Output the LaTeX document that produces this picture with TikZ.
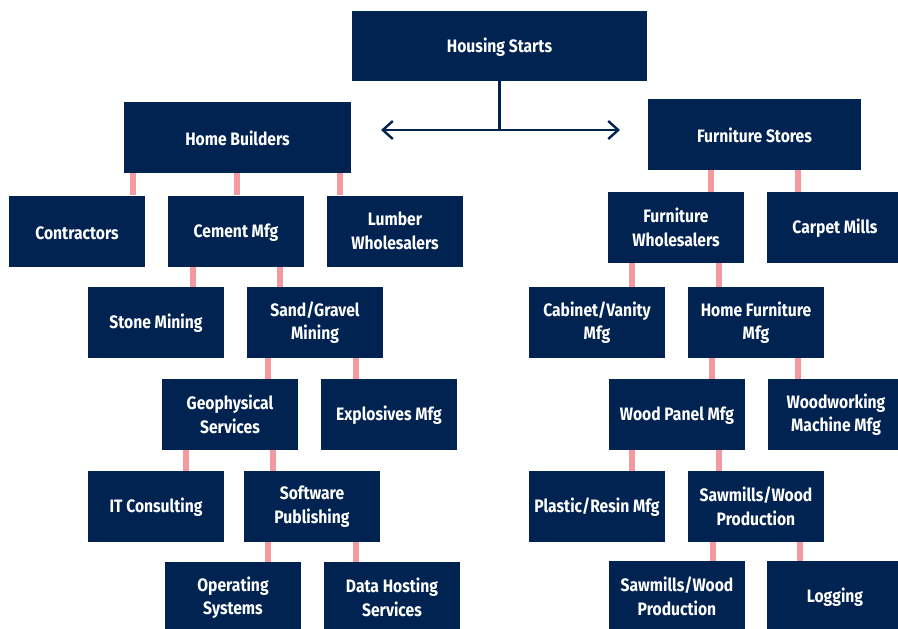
\documentclass[tikz,border=0pt]{standalone}
\usepackage{fontspec}
\setmainfont{Fira Sans}[FakeStretch=0.87]
\usepackage{xcolor}
\definecolor{navy}{RGB}{0,35,82}
\definecolor{tiepink}{RGB}{244,154,158}
\usepackage{tikz}
\usetikzlibrary{arrows.meta}
\newcommand{\boxw}{136pt}
\newcommand{\boxh}{71pt}
\newcommand{\tie}[3]{\draw[link] (#1.south -| #3,0) -- (#2.north -| #3,0);}
\tikzset{
    industry/.style={fill=navy, text=white, inner sep=0pt, align=center,
        minimum width=\boxw, minimum height=\boxh,
        font=\fontsize{18}{23.5}\selectfont\bfseries,
        execute at begin node={\vrule height 16.4pt width 0pt}},
    headbox/.style={industry, minimum height=70pt},
    link/.style={draw=tiepink, line width=6pt},
    flow/.style={draw=navy, line width=2.4pt},
    twoway/.style={flow, {Straight Barb[length=10pt, width=18pt]}-{Straight Barb[length=10pt, width=18pt]}}
}

\begin{document}
\begin{tikzpicture}[x=1pt, y=-1pt]
    \useasboundingbox (0,0) rectangle (898,629);

    \node[headbox, minimum width=295pt] (hs) at (499.5,46) {Housing Starts};
    \node[industry, minimum width=227pt] (hb) at (237.5,137.5) {Home Builders};
    \node[industry, minimum width=213pt] (fs) at (754.5,134.5) {Furniture Stores};

    \coordinate (lefttip) at (381,130);
    \coordinate (righttip) at (620,130);
    \draw[flow] (hs.south) -- (hs.south |- lefttip);
    \draw[twoway] (lefttip) -- (righttip);

    % home builders side
    \node[industry] (contr) at (77,231) {Contractors};
    \node[industry] (cement) at (236,231) {Cement Mfg};
    \node[industry] (lumber) at (395,231) {Lumber\\Wholesalers};
    \node[industry] (stone) at (156,322.5) {Stone Mining};
    \node[industry] (sand) at (315,322.5) {Sand/Gravel\\Mining};
    \node[industry] (geo) at (230,414.5) {Geophysical\\Services};
    \node[industry] (expl) at (389,414.5) {Explosives Mfg};
    \node[industry] (itc) at (156,506.5) {IT Consulting};
    \node[industry] (soft) at (312,506.5) {Software\\Publishing};
    \node[industry] (opsys) at (233,597.5) {Operating\\Systems};
    \node[industry] (hosting) at (392,597.5) {Data Hosting\\Services};

    \tie{hb}{contr}{133}
    \tie{hb}{cement}{237}
    \tie{hb}{lumber}{340}
    \tie{cement}{stone}{193}
    \tie{cement}{sand}{280}
    \tie{sand}{geo}{268}
    \tie{sand}{expl}{356}
    \tie{geo}{itc}{186}
    \tie{geo}{soft}{273}
    \tie{soft}{opsys}{268}
    \tie{soft}{hosting}{356}

    % furniture stores side
    \node[industry] (fw) at (676,227.5) {Furniture\\Wholesalers};
    \node[industry] (carpet) at (835,227.5) {Carpet Mills};
    \node[industry] (cabinet) at (597,322.5) {Cabinet/Vanity\\Mfg};
    \node[industry] (homefurn) at (756,322.5) {Home Furniture\\Mfg};
    \node[industry] (panel) at (677,414.5) {Wood Panel Mfg};
    \node[industry] (machine) at (836,414.5) {Woodworking\\Machine Mfg};
    \node[industry] (resin) at (597,506.5) {Plastic/Resin Mfg};
    \node[industry] (sawmid) at (756,506.5) {Sawmills/Wood\\Production};
    \node[industry] (sawlow) at (677,596.5) {Sawmills/Wood\\Production};
    \node[industry] (logging) at (835,596.5) {Logging};

    \tie{fs}{fw}{711}
    \tie{fs}{carpet}{798}
    \tie{fw}{cabinet}{632}
    \tie{fw}{homefurn}{719}
    \tie{homefurn}{panel}{712}
    \tie{homefurn}{machine}{798}
    \tie{panel}{resin}{632}
    \tie{panel}{sawmid}{719}
    \tie{sawmid}{sawlow}{713}
    \tie{sawmid}{logging}{800}
\end{tikzpicture}
\end{document}
